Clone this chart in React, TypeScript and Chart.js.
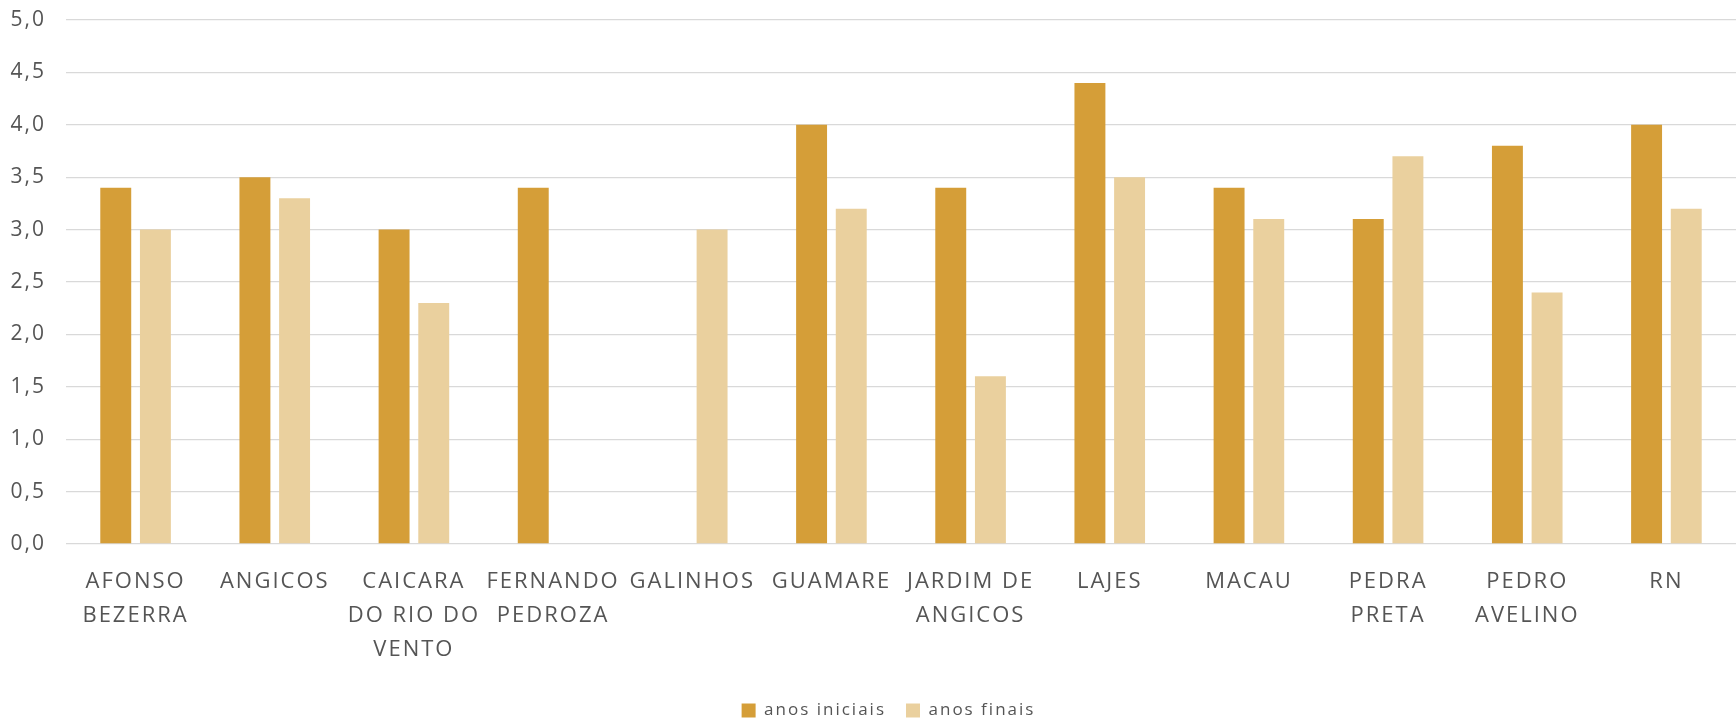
import React, { useEffect, useRef } from "react";
import { Chart, registerables } from "chart.js";

Chart.register(...registerables);

const categories: string[][] = [
  ["AFONSO", "BEZERRA"],
  ["ANGICOS"],
  ["CAICARA", "DO RIO DO", "VENTO"],
  ["FERNANDO", "PEDROZA"],
  ["GALINHOS"],
  ["GUAMARE"],
  ["JARDIM DE", "ANGICOS"],
  ["LAJES"],
  ["MACAU"],
  ["PEDRA", "PRETA"],
  ["PEDRO", "AVELINO"],
  ["RN"],
];

const anosIniciais: (number | null)[] = [3.4, 3.5, 3.0, 3.4, null, 4.0, 3.4, 4.4, 3.4, 3.1, 3.8, 4.0];
const anosFinais: (number | null)[] = [3.0, 3.3, 2.3, null, 3.0, 3.2, 1.6, 3.5, 3.1, 3.7, 2.4, 3.2];

const seriesNames = ["anos iniciais", "anos finais"];
const seriesColors = ["#D59E38", "#EAD09E"];

const TEXT = "#555555";
const FONT = "'Open Sans', 'Noto Sans', sans-serif";

const spacingPlugin = {
  id: "letterSpacingPlugin",
  beforeUpdate(chart: any) {
    chart.ctx.letterSpacing = "2px";
  },
  beforeDraw(chart: any) {
    chart.ctx.letterSpacing = "2px";
  },
};

export default function App() {
  const ref = useRef<HTMLCanvasElement | null>(null);

  useEffect(() => {
    if (!ref.current) return;
    const chart = new Chart(ref.current, {
      type: "bar",
      data: {
        labels: categories,
        datasets: [
          {
            label: seriesNames[0],
            data: anosIniciais,
            backgroundColor: seriesColors[0],
            borderWidth: 0,
            categoryPercentage: 0.57,
            barPercentage: 0.78,
          },
          {
            label: seriesNames[1],
            data: anosFinais,
            backgroundColor: seriesColors[1],
            borderWidth: 0,
            categoryPercentage: 0.57,
            barPercentage: 0.78,
          },
        ],
      },
      options: {
        responsive: false,
        animation: false,
        layout: { padding: { left: 41, top: 20, right: 0, bottom: -8 } },
        plugins: {
          tooltip: { enabled: false },
          legend: {
            position: "bottom",
            labels: {
              boxWidth: 14,
              boxHeight: 14,
              padding: 20,
              color: TEXT,
              font: { family: FONT, size: 17 },
            },
          },
        },
        scales: {
          x: {
            afterFit(scale: any) {
              scale.height = 138;
            },
            grid: { display: false, drawTicks: false },
            border: { display: false },
            ticks: {
              color: TEXT,
              font: { family: FONT, size: 22, lineHeight: 1.545 },
              padding: 21,
              autoSkip: false,
              maxRotation: 0,
              minRotation: 0,
            },
          },
          y: {
            min: 0,
            max: 5,
            afterFit(scale: any) {
              scale.width = 25;
              scale.paddingTop = 0;
              scale.paddingBottom = 0;
              scale._computeLabelArea = () => undefined;
            },
            grid: { color: "#D9D9D9", lineWidth: 1.3, drawTicks: false },
            border: { display: false },
            ticks: {
              stepSize: 0.5,
              color: TEXT,
              padding: 20,
              font: { family: FONT, size: 21 },
              callback: (v: any) => Number(v).toFixed(1).replace(".", ","),
            },
          },
        },
      },
      plugins: [spacingPlugin],
    });
    return () => chart.destroy();
  }, []);

  return (
    <div style={{ position: "fixed", left: 0, top: 0, width: 1736, height: 721, background: "#fff" }}>
      <canvas ref={ref} width={1736} height={721} />
    </div>
  );
}
